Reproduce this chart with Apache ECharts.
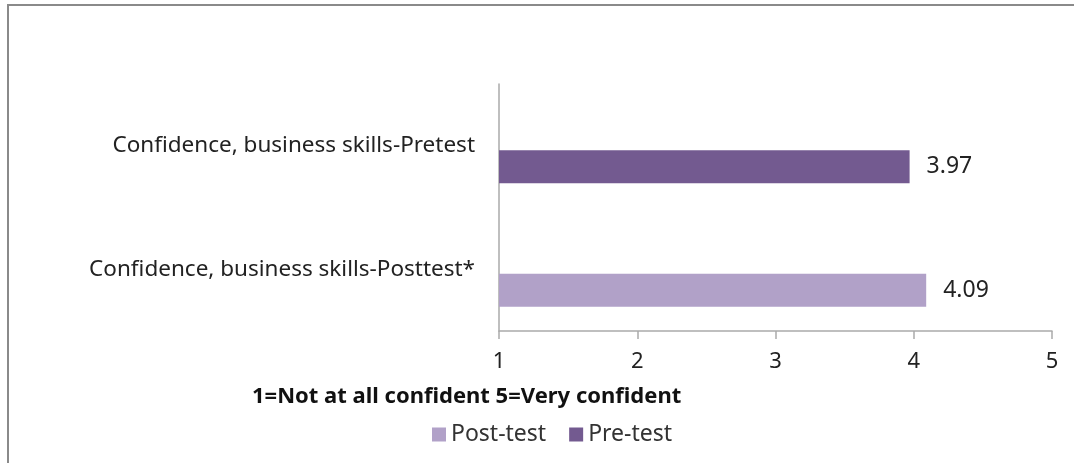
<!DOCTYPE html>
<html>
<head>
<meta charset="utf-8">
<script src="https://cdn.jsdelivr.net/npm/echarts@6/dist/echarts.min.js"></script>
<style>
  html, body { margin: 0; padding: 0; background: #fff; }
  #chart { width: 1074px; height: 463px; }
</style>
</head>
<body>
<div id="chart"></div>
<script>
// region data
const categories = ['Confidence, business skills-Pretest', 'Confidence, business skills-Posttest*']
const postTest = [null, 4.09]
const preTest = [3.97, null]
const xTicks = [1, 2, 3, 4, 5]
const axisTitle = '1=Not at all confident 5=Very confident'
// endregion

const font = 'Noto Sans'
const chart = echarts.init(document.getElementById('chart'))

// grid 0 draws the axes, grid 1 carries the bars a bit lower in each band (like the original)
const option = {
  animation: false,
  textStyle: { fontFamily: font },
  color: ['#b1a1c8', '#735a90'],
  graphic: [
    {
      type: 'polyline',
      shape: { points: [[8, 463], [8, 5], [1074, 5]] },
      style: { stroke: '#8a8a8a', lineWidth: 2, fill: null },
    },
    {
      type: 'text',
      left: 252,
      top: 386,
      style: { text: axisTitle, font: 'bold 22px ' + font, fill: '#111' },
    },
  ],
  legend: {
    left: 427,
    top: 418,
    itemWidth: 14,
    itemHeight: 14,
    itemGap: 23,
    icon: 'rect',
    textStyle: { fontSize: 23, color: '#333', fontFamily: font },
    data: ['Post-test', 'Pre-test'],
  },
  grid: [
    { left: 499, top: 84, width: 553, height: 247 },
    { left: 499, top: 105, width: 553, height: 247 },
  ],
  xAxis: [
    {
      gridIndex: 0,
      type: 'value',
      min: xTicks[0],
      max: xTicks[xTicks.length - 1],
      interval: 1,
      axisLine: { show: true, lineStyle: { color: '#aaa', width: 1.5 } },
      axisTick: { show: true, length: 8, lineStyle: { color: '#aaa', width: 1.5 } },
      splitLine: { show: false },
      axisLabel: { fontSize: 22, color: '#222', margin: 20, fontFamily: font },
    },
    {
      gridIndex: 1,
      type: 'value',
      min: xTicks[0],
      max: xTicks[xTicks.length - 1],
      show: false,
    },
  ],
  yAxis: [
    {
      gridIndex: 0,
      type: 'category',
      inverse: true,
      data: categories,
      axisLine: { show: true, lineStyle: { color: '#aaa', width: 1.5 } },
      axisTick: { show: false },
      axisLabel: { fontSize: 22.5, color: '#222', margin: 24, fontFamily: font },
    },
    {
      gridIndex: 1,
      type: 'category',
      inverse: true,
      data: categories,
      show: false,
    },
  ],
  series: [
    {
      name: 'Post-test',
      type: 'bar',
      xAxisIndex: 1,
      yAxisIndex: 1,
      stack: 'all',
      barWidth: 33,
      data: postTest,
      label: { show: true, position: 'right', distance: 17, fontSize: 23, color: '#222', fontFamily: font },
    },
    {
      name: 'Pre-test',
      type: 'bar',
      xAxisIndex: 1,
      yAxisIndex: 1,
      stack: 'all',
      barWidth: 33,
      data: preTest,
      label: { show: true, position: 'right', distance: 17, fontSize: 23, color: '#222', fontFamily: font },
    },
  ],
}
chart.setOption(option)
</script>
</body>
</html>
